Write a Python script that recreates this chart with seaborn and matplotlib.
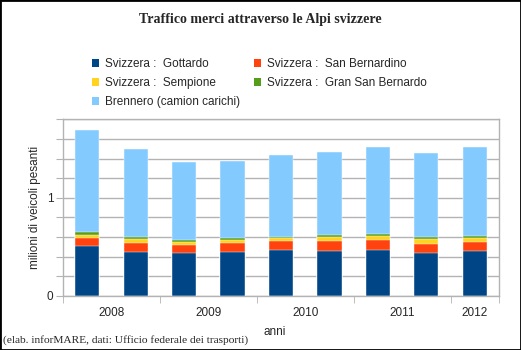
import numpy as np
import pandas as pd
import matplotlib
matplotlib.use("Agg")
import matplotlib.pyplot as plt
import seaborn as sns
from matplotlib.patches import Patch

# half-year periods 2008 H1 .. 2012 H1 (million heavy vehicles)
periods = ["2008-1", "2008-2", "2009-1", "2009-2", "2010-1", "2010-2", "2011-1", "2011-2", "2012-1"]
gottardo = [0.508, 0.451, 0.438, 0.448, 0.468, 0.458, 0.471, 0.441, 0.458]
san_bernardino = [0.078, 0.088, 0.081, 0.091, 0.088, 0.101, 0.098, 0.091, 0.091]
sempione = [0.040, 0.037, 0.033, 0.033, 0.033, 0.047, 0.044, 0.047, 0.044]
gran_san_bernardo = [0.031, 0.023, 0.017, 0.021, 0.017, 0.020, 0.023, 0.027, 0.023]
brennero = [1.030, 0.903, 0.798, 0.781, 0.835, 0.845, 0.879, 0.852, 0.903]

series_names = ["Svizzera :  Gottardo", "Svizzera :  San Bernardino", "Svizzera :  Sempione",
                "Svizzera :  Gran San Bernardo", "Brennero (camion carichi)"]
colors = ["#004586", "#ff420e", "#ffd320", "#579d1c", "#83caff"]
year_labels = ["2008", "2009", "2010", "2011", "2012"]

df = pd.DataFrame({"periodo": periods})
series = [gottardo, san_bernardino, sempione, gran_san_bernardo, brennero]
cum = np.cumsum(np.array(series), axis=0)

sns.set_style("white")
plt.rcParams["font.family"] = ["Liberation Sans", "DejaVu Sans"]

fig = plt.figure(figsize=(5.21, 3.5), dpi=100)
ax = fig.add_axes([63 / 521, 1 - 296 / 350, 436 / 521, (296 - 119.3) / 350])

# stacked bars: draw cumulative totals from the top down
for i in range(len(series) - 1, -1, -1):
    df["v"] = cum[i]
    sns.barplot(data=df, x="periodo", y="v", color=colors[i], width=0.5,
                saturation=1, ax=ax, edgecolor="white", linewidth=0.3)

ax.set_xlim(-0.5, 8.5)
ax.set_ylim(0, 1.8)
yt = np.arange(0, 1.81, 0.2)
ax.set_yticks(yt)
ax.set_yticklabels(["0" if abs(v) < 1e-9 else ("1" if abs(v - 1) < 1e-9 else "") for v in yt],
                   fontsize=8.5)
ax.yaxis.grid(True, color="#b3b3b3", linewidth=1)
ax.set_axisbelow(True)
ax.tick_params(axis="y", length=5, color="#b3b3b3", pad=2, left=True)

ax.set_xticks([0.5, 2.5, 4.5, 6.5, 8])
ax.set_xticklabels(year_labels, fontsize=8.5)
ax.set_xticks([-0.5, 1.5, 3.5, 5.5, 6.5, 7.5, 8.5], minor=True)
ax.tick_params(axis="x", which="major", length=0, pad=8)
ax.tick_params(axis="x", which="minor", length=5, color="#b3b3b3", bottom=True)
for s in ax.spines.values():
    s.set_color("#b3b3b3")
    s.set_linewidth(1)
ax.set_xlabel("")
ax.set_ylabel("milioni di veicoli pesanti", fontsize=8.5, labelpad=4)

fig.text(263 / 521, 1 - 332 / 350, "anni", fontsize=8.5, va="center", ha="left")

fig.text(0.5, 1 - 20 / 350, "Traffico merci attraverso le Alpi svizzere",
         family="Liberation Serif", fontweight="bold", fontsize=10, ha="center", va="center")
fig.text(3 / 521, 1 - 340 / 350, "(elab. inforMARE, dati: Ufficio federale dei trasporti)",
         family="Liberation Serif", fontsize=8.2, ha="left", va="center")

order = [0, 2, 4, 1, 3]
handles = [Patch(facecolor=colors[i], edgecolor="none") for i in order]
fig.legend(handles, [series_names[i] for i in order], ncol=2, loc="upper left",
           bbox_to_anchor=(92 / 521, 1 - 58 / 350), frameon=False, fontsize=8.5,
           handlelength=0.6, handleheight=0.6, handletextpad=0.5, columnspacing=1.2,
           labelspacing=0.6, borderaxespad=0, borderpad=0)

fig.patches.append(plt.Rectangle((0, 0), 1, 1, transform=fig.transFigure, fill=False,
                                 edgecolor="black", linewidth=2))

fig.savefig("out.png", dpi=100)
